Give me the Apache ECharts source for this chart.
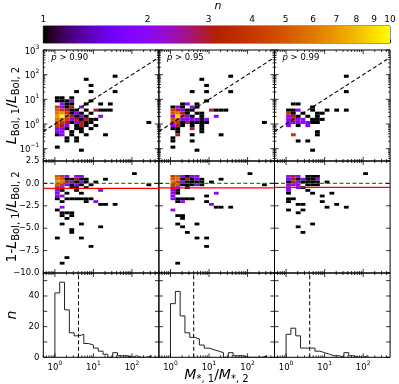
<!DOCTYPE html>
<html>
<head>
<meta charset="utf-8">
<script src="https://cdn.jsdelivr.net/npm/echarts@6/dist/echarts.min.js"></script>
<style>
html, body { margin: 0; padding: 0; background: #fff; }
#main { width: 399px; height: 384px; }
</style>
</head>
<body>
<div id="main"></div>
<script>
// bin widths (mass ratio and luminosity ratio binned in log10, difference binned linearly)
const xBin = 0.125
const lumBin = 0.125
const diffBin = 0.3125

const panelLabels = ['0.90', '0.95', '0.99']

// top row: [log mass-ratio bin, log L-ratio bin, n]
const lumCells90 = [
  [0, 8, 1], [1, 8, 1], [3, 8, 1],
  [0, 7, 1], [1, 7, 1], [2, 7, 1], [3, 7, 2], [7, 7, 1],
  [1, 6, 2], [2, 6, 1], [3, 6, 1], [6, 6, 1], [9, 6, 1], [11, 6, 1],
  [0, 5, 4], [1, 5, 2], [2, 5, 1], [3, 5, 3], [5, 5, 2],
  [0, 4, 5], [1, 4, 4], [2, 4, 3], [3, 4, 1], [4, 4, 1], [6, 4, 1], [8, 4, 3], [9, 4, 1], [10, 4, 1], [11, 4, 1],
  [0, 3, 6], [1, 3, 7], [2, 3, 4], [3, 3, 1], [4, 3, 2], [5, 3, 1], [7, 3, 1],
  [0, 2, 7], [1, 2, 10], [2, 2, 5], [3, 2, 3], [4, 2, 1], [5, 2, 2], [6, 2, 1], [9, 2, 2],
  [0, 1, 6], [1, 1, 6], [2, 1, 4], [3, 1, 2], [4, 1, 3], [5, 1, 1], [6, 1, 3], [7, 1, 1], [8, 1, 1],
  [0, 0, 5], [1, 0, 4], [2, 0, 3], [3, 0, 1], [4, 0, 2], [5, 0, 3], [6, 0, 1], [7, 0, 1], [19, 0, 1],
  [0, -1, 4], [1, -1, 3], [2, -1, 2], [4, -1, 1], [5, -1, 3], [6, -1, 1], [8, -1, 1],
  [0, -2, 2], [1, -2, 2], [2, -2, 1], [4, -2, 1], [5, -2, 1], [7, -2, 1],
  [0, -3, 2], [1, -3, 2], [3, -3, 1], [5, -3, 1],
  [0, -4, 1], [1, -4, 2], [3, -4, 1], [6, -4, 1], [10, -4, 1],
  [2, -5, 1], [4, -5, 1], [2, -6, 1], [4, -6, 1],
  [0, -8, 1], [5, -9, 1],
  [6, 14, 1], [12, 15, 1], [7, 12, 1], [4, 10, 1], [7, 10, 1], [12, 10, 1]
]
const lumCells95 = [
  [7, 7, 1],
  [2, 6, 1], [3, 6, 2], [5, 6, 1],
  [0, 5, 1], [1, 5, 2], [2, 5, 1], [4, 5, 2], [5, 5, 1],
  [0, 4, 4], [1, 4, 3], [2, 4, 2], [3, 4, 1], [4, 4, 1], [8, 4, 3], [9, 4, 1], [10, 4, 1], [11, 4, 1],
  [0, 3, 5], [1, 3, 6], [2, 3, 3], [3, 3, 1], [5, 3, 1], [6, 3, 1],
  [0, 2, 2], [1, 2, 9], [2, 2, 4], [3, 2, 2], [4, 2, 1], [6, 2, 1], [9, 2, 2],
  [0, 1, 5], [1, 1, 5], [2, 1, 2], [3, 1, 2], [4, 1, 2], [5, 1, 2], [6, 1, 1], [7, 1, 2],
  [0, 0, 4], [1, 0, 4], [2, 0, 1], [3, 0, 3], [4, 0, 1], [5, 0, 1], [6, 0, 1], [7, 0, 1], [19, 0, 1],
  [0, -1, 2], [1, -1, 3], [2, -1, 1], [4, -1, 1], [6, -1, 1],
  [0, -2, 1], [1, -2, 1], [4, -2, 3], [6, -2, 1],
  [1, -3, 1], [6, -3, 1],
  [1, -4, 3], [4, -4, 1], [10, -4, 1],
  [0, -5, 1], [0, -6, 1], [4, -6, 1],
  [0, -8, 1], [5, -9, 1],
  [6, 14, 1], [12, 15, 1], [7, 12, 1], [4, 10, 1], [7, 10, 1], [12, 10, 1]
]
const lumCells99 = [
  [1, 6, 1], [2, 6, 1],
  [5, 5, 1],
  [0, 4, 1], [1, 4, 1], [2, 4, 2], [5, 4, 1], [8, 4, 1], [10, 4, 1], [12, 4, 1],
  [0, 3, 4], [1, 3, 1], [3, 3, 1], [6, 3, 1], [7, 3, 1],
  [0, 2, 2], [1, 2, 3], [2, 2, 1], [4, 2, 1], [6, 2, 1],
  [0, 1, 2], [1, 1, 3], [2, 1, 2], [3, 1, 2], [5, 1, 1], [6, 1, 1], [7, 1, 1],
  [0, 0, 2], [1, 0, 2], [2, 0, 2], [3, 0, 2], [4, 0, 2], [5, 0, 1], [6, 0, 1],
  [0, -1, 2], [2, -1, 1], [4, -1, 2],
  [6, -3, 1],
  [1, -4, 4], [6, -4, 1],
  [2, -6, 1], [4, -6, 1],
  [5, -9, 1],
  [12, 15, 1], [12, 10, 1]
]

// middle row: [log mass-ratio bin, (1 - L ratio) bin, n]
const diffCells90 = [
  [16, 3, 1],
  [0, 2, 5], [1, 2, 4], [2, 2, 2], [4, 2, 2], [5, 2, 2],
  [0, 1, 6], [1, 1, 5], [2, 1, 1], [3, 1, 1], [4, 1, 3], [5, 1, 1], [6, 1, 1], [10, 1, 1],
  [0, 0, 7], [1, 0, 6], [2, 0, 3], [3, 0, 2], [4, 0, 1], [5, 0, 2], [6, 0, 1], [8, 0, 1],
  [0, -1, 5], [1, -1, 4], [2, -1, 2], [3, -1, 1], [4, -1, 2], [5, -1, 1], [7, -1, 1], [19, -1, 1],
  [0, -2, 3], [1, -2, 2], [3, -2, 1], [4, -2, 1], [6, -2, 1],
  [0, -3, 2], [1, -3, 1], [4, -3, 1], [9, -3, 2],
  [0, -4, 2], [2, -4, 1], [5, -4, 1],
  [0, -5, 2], [1, -5, 2],
  [0, -6, 1], [2, -6, 1], [3, -6, 1], [4, -6, 1], [5, -6, 1], [6, -6, 1], [7, -6, 1],
  [1, -7, 1], [6, -7, 1], [8, -7, 2],
  [9, -8, 1], [10, -8, 1], [12, -8, 1],
  [1, -9, 2], [0, -10, 1],
  [1, -11, 1], [2, -11, 1], [3, -11, 1],
  [1, -12, 1], [3, -12, 1], [2, -13, 1],
  [1, -15, 1], [5, -15, 1], [9, -16, 1], [3, -17, 1], [3, -18, 1],
  [0, -20, 1], [5, -20, 1], [7, -23, 1],
  [2, -27, 1], [1, -29, 1]
]
const diffCells95 = [
  [16, 3, 1],
  [0, 2, 4], [1, 2, 5], [2, 2, 2], [3, 2, 1], [4, 2, 2], [5, 2, 2],
  [0, 1, 5], [1, 1, 6], [2, 1, 1], [3, 1, 3], [4, 1, 1], [5, 1, 2], [6, 1, 1], [10, 1, 1],
  [0, 0, 6], [1, 0, 4], [2, 0, 2], [3, 0, 1], [4, 0, 1], [5, 0, 1], [6, 0, 1], [8, 0, 1],
  [0, -1, 4], [1, -1, 5], [2, -1, 1], [3, -1, 1], [4, -1, 1], [5, -1, 2], [6, -1, 1], [19, -1, 1],
  [0, -2, 3], [1, -2, 2], [3, -2, 1],
  [0, -3, 2], [1, -3, 1],
  [0, -4, 2], [1, -4, 1], [9, -4, 2],
  [0, -5, 2], [7, -5, 1],
  [0, -6, 2], [1, -6, 1], [2, -6, 1], [3, -6, 1], [4, -6, 1],
  [1, -7, 1], [2, -7, 2], [7, -7, 1],
  [8, -8, 2], [9, -9, 1], [10, -9, 1], [12, -9, 1],
  [0, -10, 2], [1, -12, 1], [2, -12, 1], [2, -13, 1],
  [1, -15, 1], [5, -15, 1], [2, -16, 1], [3, -18, 1],
  [5, -20, 1], [7, -20, 1], [7, -23, 1], [1, -29, 1]
]
const diffCells99 = [
  [16, 3, 1],
  [0, 2, 2], [1, 2, 3], [2, 2, 2], [4, 2, 1], [5, 2, 1], [6, 2, 1],
  [0, 1, 2], [1, 1, 3], [2, 1, 1], [3, 1, 2], [4, 1, 1], [5, 1, 1], [6, 1, 2],
  [0, 0, 1], [1, 0, 3], [2, 0, 2], [3, 0, 1], [4, 0, 1], [5, 0, 1], [6, 0, 1], [8, 0, 1],
  [0, -1, 2], [1, -1, 2], [2, -1, 2], [4, -1, 1], [5, -1, 1], [6, -1, 1],
  [0, -2, 2], [2, -2, 2], [3, -2, 1],
  [0, -3, 2], [4, -3, 1],
  [0, -4, 1], [5, -4, 1], [9, -4, 1],
  [7, -5, 1],
  [0, -6, 1], [1, -6, 1],
  [0, -7, 1], [7, -7, 1],
  [2, -8, 1], [3, -8, 1], [10, -8, 1],
  [8, -9, 1], [12, -9, 1],
  [0, -10, 1], [3, -10, 1], [2, -11, 1],
  [5, -15, 1], [2, -16, 1], [3, -18, 1]
]

// bottom row: counts per log mass-ratio bin, starting at M1/M2 = 1
const histCounts90 = [42, 49, 31, 16, 14, 15, 9, 8, 6, 4, 2, 0, 3, 1, 1, 0, 1, 0, 0, 1]
const histCounts95 = [35, 43, 27, 16, 13, 12, 8, 6, 5, 4, 3, 0, 3, 1, 1, 0, 0, 0, 0, 1]
const histCounts99 = [15, 19, 14, 6, 6, 6, 4, 3, 2, 1, 1, 0, 3, 1, 0, 0, 1]
const medianRatio = [4.1, 4.0, 4.1]
const meanDiff = [-0.55, -0.5, -0.45]

const colorbarTicks = [1, 2, 3, 4, 5, 6, 7, 8, 9, 10]

const lumCells = [lumCells90, lumCells95, lumCells99]
const diffCells = [diffCells90, diffCells95, diffCells99]
const histCounts = [histCounts90, histCounts95, histCounts99]

const FONT = 'DejaVu Sans'
const xMin = Math.log10(0.5)
const xMax = Math.log10(500)
const cols = [43.3, 158.9, 274.5]
const colW = 115.6
const rows = [
  { top: 50, h: 111, min: -1.5, max: 3 },
  { top: 161, h: 112, min: -10, max: 2.5 },
  { top: 273, h: 84.3, min: 0, max: 55 }
]

function gnuplot (t) {
  const c = v => Math.round(Math.min(1, Math.max(0, v)) * 255)
  return 'rgb(' + c(Math.sqrt(t)) + ',' + c(t * t * t) + ',' + c(Math.sin(2 * Math.PI * t)) + ')'
}

const supRich = {
  b: { fontSize: 8.5, fontFamily: FONT, color: '#000', lineHeight: 12, verticalAlign: 'bottom' },
  s: { fontSize: 6, fontFamily: FONT, color: '#000', lineHeight: 7, verticalAlign: 'top' }
}
const pow10 = v => '{b|10}{s|' + (v < 0 ? '\u2212' + (-v) : v) + '}'
const plainLabel = { fontSize: 8.5, fontFamily: FONT, color: '#000', margin: 4 }

function logTicks (lo, hi, eMin, eMax) {
  const major = []
  const minor = []
  for (let e = eMin; e <= eMax; e++) {
    if (e >= lo && e <= hi) major.push(e)
    for (let k = 2; k <= 9; k++) {
      const v = e + Math.log10(k)
      if (v > lo && v < hi) minor.push(v)
    }
  }
  return major.map(v => [v, 4]).concat(minor.map(v => [v, 2]))
}
const xTicks = logTicks(xMin, xMax, -1, 3)
const yTicksRows = [
  logTicks(-1.5, 3, -2, 3),
  [-10, -7.5, -5, -2.5, 0, 2.5].map(v => [v, 4]),
  [0, 10, 20, 30, 40, 50].map(v => [v, 4])
]

function cellSeries (k, cells, yBin) {
  return {
    type: 'custom',
    xAxisIndex: k,
    yAxisIndex: k,
    clip: true,
    silent: true,
    data: cells.map(d => [d[0] * xBin, (d[0] + 1) * xBin, d[1] * yBin, (d[1] + 1) * yBin, d[2]]),
    encode: { x: [0, 1], y: [2, 3] },
    renderItem: (params, api) => {
      const p0 = api.coord([api.value(0), api.value(3)])
      const p1 = api.coord([api.value(1), api.value(2)])
      return {
        type: 'rect',
        shape: { x: p0[0], y: p0[1], width: p1[0] - p0[0], height: p1[1] - p0[1] },
        style: { fill: gnuplot(Math.log10(api.value(4))) }
      }
    }
  }
}

function tickSeries (k, row) {
  const data = xTicks.map(t => [t[0], t[1], 0]).concat(yTicksRows[row].map(t => [t[0], t[1], 1]))
  const r = rows[row]
  return {
    type: 'custom',
    xAxisIndex: k,
    yAxisIndex: k,
    silent: true,
    z: 10,
    data: data,
    renderItem: (params, api) => {
      const v = api.value(0)
      const len = api.value(1)
      let segs
      if (api.value(2) === 0) {
        const a = api.coord([v, r.min])
        const b = api.coord([v, r.max])
        segs = [[a[0], a[1], a[0], a[1] - len], [b[0], b[1], b[0], b[1] + len]]
      } else {
        const a = api.coord([xMin, v])
        const b = api.coord([xMax, v])
        segs = [[a[0], a[1], a[0] + len, a[1]], [b[0], b[1], b[0] - len, b[1]]]
      }
      return {
        type: 'group',
        children: segs.map(s => ({
          type: 'line',
          shape: { x1: s[0], y1: s[1], x2: s[2], y2: s[3] },
          style: { stroke: '#000', lineWidth: 0.8 }
        }))
      }
    }
  }
}

function lineSeries (k, data, color, width, type) {
  return {
    type: 'line',
    xAxisIndex: k,
    yAxisIndex: k,
    data: data,
    symbol: 'none',
    silent: true,
    z: 5,
    lineStyle: { color: color, width: width, type: type }
  }
}

const grid = []
const xAxis = []
const yAxis = []
const series = []

rows.forEach((row, r) => {
  cols.forEach((left, c) => {
    const k = r * 3 + c
    grid.push({
      left: left, top: row.top, width: colW, height: row.h,
      show: true, borderColor: '#000', borderWidth: 1, outerBoundsMode: 'none'
    })
    xAxis.push({
      gridIndex: k, type: 'value', min: xMin, max: xMax,
      axisLine: { show: false }, axisTick: { show: false }, splitLine: { show: false },
      axisLabel: r === 2
        ? { customValues: [0, 1, 2], formatter: pow10, rich: supRich, margin: 3 }
        : { show: false }
    })
    let yLabel = { show: false }
    if (c === 0) {
      if (r === 0) yLabel = { customValues: [-1, 0, 1, 2, 3], formatter: pow10, rich: supRich, margin: 4 }
      if (r === 1) yLabel = Object.assign({ customValues: [-10, -7.5, -5, -2.5, 0, 2.5], formatter: v => v.toFixed(1).replace('-', '\u2212') }, plainLabel)
      if (r === 2) yLabel = Object.assign({ customValues: [0, 20, 40], formatter: v => String(v) }, plainLabel)
    }
    yAxis.push({
      gridIndex: k, type: 'value', min: row.min, max: row.max,
      axisLine: { show: false }, axisTick: { show: false }, splitLine: { show: false },
      axisLabel: yLabel
    })
    series.push(tickSeries(k, r))
  })
})

cols.forEach((left, c) => {
  // luminosity ratio vs mass ratio
  series.push(cellSeries(c, lumCells[c], lumBin))
  series.push(lineSeries(c, [[xMin, xMin], [xMax, xMax]], '#000', 1.1, [4, 2.5]))
  // 1 - luminosity ratio
  series.push(cellSeries(3 + c, diffCells[c], diffBin))
  series.push(lineSeries(3 + c, [[xMin, 0], [xMax, 0]], '#1a8a1a', 1.1, [4, 2.5]))
  series.push(lineSeries(3 + c, [[xMin, meanDiff[c]], [xMax, meanDiff[c]]], '#ff0000', 1.3, 'solid'))
  // histogram as a step outline
  const counts = histCounts[c]
  const steps = [[0, 0]]
  counts.forEach((n, i) => {
    steps.push([i * xBin, n])
    steps.push([(i + 1) * xBin, n])
  })
  steps.push([counts.length * xBin, 0])
  series.push(lineSeries(6 + c, steps, '#222', 1, 'solid'))
  const m = Math.log10(medianRatio[c])
  series.push(lineSeries(6 + c, [[m, 0], [m, 55]], '#000', 1, [4, 2.5]))
})

// colour bar
grid.push({ left: 43.3, top: 26, width: 346.7, height: 17, show: true, borderColor: '#000', borderWidth: 0.8, outerBoundsMode: 'none' })
xAxis.push({
  gridIndex: 9, type: 'value', min: 0, max: 1, position: 'top',
  axisLine: { show: false }, splitLine: { show: false },
  axisTick: { show: true, inside: false, length: 3.5, customValues: colorbarTicks.map(Math.log10), lineStyle: { color: '#000', width: 0.8 } },
  axisLabel: Object.assign({ customValues: colorbarTicks.map(Math.log10), formatter: v => String(Math.round(Math.pow(10, v))) }, plainLabel, { margin: 2, fontSize: 9 })
})
yAxis.push({ gridIndex: 9, type: 'value', min: 0, max: 1, show: false })
const stops = []
for (let i = 0; i <= 40; i++) stops.push({ offset: i / 40, color: gnuplot(i / 40) })
series.push({
  type: 'custom',
  xAxisIndex: 9,
  yAxisIndex: 9,
  silent: true,
  data: [[0, 0]],
  renderItem: (params, api) => {
    const p0 = api.coord([0, 1])
    const p1 = api.coord([1, 0])
    return {
      type: 'rect',
      shape: { x: p0[0], y: p0[1], width: p1[0] - p0[0], height: p1[1] - p0[1] },
      style: { fill: new echarts.graphic.LinearGradient(0, 0, 1, 0, stops) }
    }
  }
})

const nameRich = {
  i: { fontSize: 14, fontFamily: FONT, fontStyle: 'italic', color: '#000', lineHeight: 18, verticalAlign: 'middle' },
  t: { fontSize: 14, fontFamily: FONT, color: '#000', lineHeight: 18, verticalAlign: 'middle' },
  s: { fontSize: 10, fontFamily: FONT, color: '#000', lineHeight: 10, verticalAlign: 'bottom' }
}
const graphic = [
  { type: 'text', x: 218, y: 6, style: { text: 'n', fontSize: 11, fontStyle: 'italic', fontFamily: FONT, fill: '#000', align: 'center', verticalAlign: 'middle' } },
  { type: 'text', x: 12, y: 105.5, rotation: Math.PI / 2, style: { text: '{i|L}{s|Bol, 1}{t|/}{i|L}{s|Bol, 2}', rich: nameRich, align: 'center', verticalAlign: 'middle' } },
  { type: 'text', x: 12, y: 217, rotation: Math.PI / 2, style: { text: '{t|1-}{i|L}{s|Bol, 1}{t|/}{i|L}{s|Bol, 2}', rich: nameRich, align: 'center', verticalAlign: 'middle' } },
  { type: 'text', x: 12, y: 315, rotation: Math.PI / 2, style: { text: '{i|n}', rich: nameRich, align: 'center', verticalAlign: 'middle' } },
  { type: 'text', x: 216.5, y: 375, style: { text: '{i|M}{s|*, 1}{t|/}{i|M}{s|*, 2}', rich: nameRich, align: 'center', verticalAlign: 'middle' } }
]
cols.forEach((left, c) => {
  graphic.push({
    type: 'text', x: left + 8, y: 58,
    style: {
      text: '{p|p} > ' + panelLabels[c],
      fontSize: 8.5, fontFamily: FONT, fill: '#000', verticalAlign: 'middle',
      rich: { p: { fontSize: 8.5, fontFamily: FONT, fontStyle: 'italic', color: '#000' } }
    }
  })
})

const myChart = echarts.init(document.getElementById('main'))
myChart.setOption({
  animation: false,
  backgroundColor: '#fff',
  grid: grid,
  xAxis: xAxis,
  yAxis: yAxis,
  series: series,
  graphic: graphic
})
</script>
</body>
</html>
